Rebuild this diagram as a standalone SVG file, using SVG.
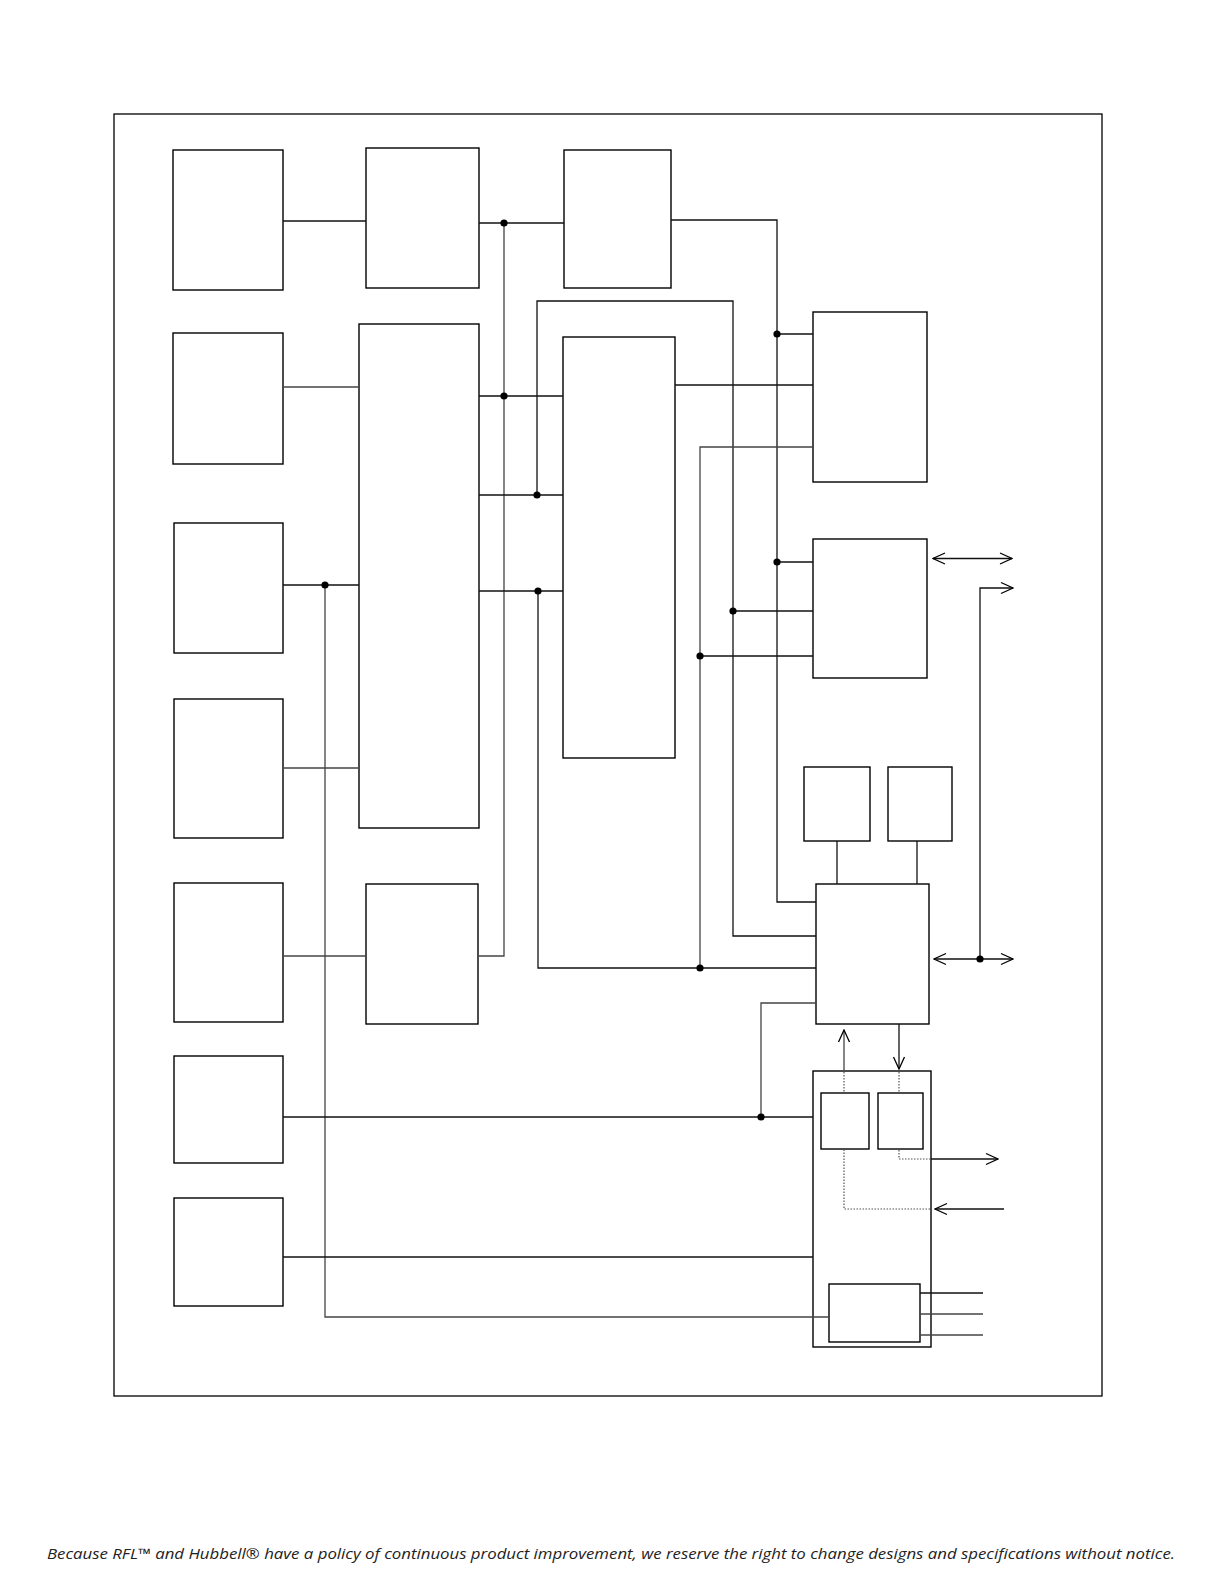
<svg xmlns="http://www.w3.org/2000/svg" width="1224" height="1584" viewBox="0 0 1224 1584">
<style>
.box{fill:#fff;stroke:#000;stroke-width:1.4}
.ln{fill:none;stroke:#111;stroke-width:1.3}
.gl{fill:none;stroke:#444;stroke-width:1.3}
.dt{fill:none;stroke:#555;stroke-width:1.2;stroke-dasharray:1.5 1.5}
.dot{fill:#000}
.foot{font-family:"Open Sans","Liberation Sans",sans-serif;font-style:italic;font-size:14.5px;fill:#222}
</style>
<defs>
<marker id="arr" viewBox="-1 -7 14 14" refX="12" refY="0" markerWidth="14" markerHeight="14" markerUnits="userSpaceOnUse" orient="auto-start-reverse">
<path d="M0,-5.5 L12,0 L0,5.5" fill="none" stroke="#000" stroke-width="1.3"/>
</marker>
</defs>
<rect id="frame" x="114" y="114" width="988" height="1282" fill="none" stroke="#000" stroke-width="1.3"/>
<g id="a1"><rect class="box" x="173" y="150" width="110" height="140"/></g>
<g id="a2"><rect class="box" x="173" y="333" width="110" height="131"/></g>
<g id="a3"><rect class="box" x="174" y="523" width="109" height="130"/></g>
<g id="a4"><rect class="box" x="174" y="699" width="109" height="139"/></g>
<g id="a5"><rect class="box" x="174" y="883" width="109" height="139"/></g>
<g id="a6"><rect class="box" x="174" y="1056" width="109" height="107"/></g>
<g id="a7"><rect class="box" x="174" y="1198" width="109" height="108"/></g>
<g id="b1"><rect class="box" x="366" y="148" width="113" height="140"/></g>
<g id="b2"><rect class="box" x="359" y="324" width="120" height="504"/></g>
<g id="b3"><rect class="box" x="366" y="884" width="112" height="140"/></g>
<g id="c1"><rect class="box" x="564" y="150" width="107" height="138"/></g>
<g id="c2"><rect class="box" x="563" y="337" width="112" height="421"/></g>
<g id="d1"><rect class="box" x="813" y="312" width="114" height="170"/></g>
<g id="d2"><rect class="box" x="813" y="539" width="114" height="139"/></g>
<g id="e1"><rect class="box" x="804" y="767" width="66" height="74"/></g>
<g id="e2"><rect class="box" x="888" y="767" width="64" height="74"/></g>
<g id="f"><rect class="box" x="816" y="884" width="113" height="140"/></g>
<g id="g"><rect class="box" x="813" y="1071" width="118" height="276"/></g>
<g id="g1"><rect class="box" x="821" y="1093" width="48" height="56"/></g>
<g id="g2"><rect class="box" x="878" y="1093" width="45" height="56"/></g>
<g id="g3"><rect class="box" x="829" y="1284" width="91" height="58"/></g>
<g id="connectors">
<path class="ln" d="M283,221 H366"/>
<path class="ln" d="M479,223 H564"/>
<path class="gl" d="M504,223 V956 H478"/>
<path class="ln" d="M671,220 H777 V902 H816"/>
<path class="ln" d="M777,334 H813"/>
<path class="ln" d="M777,562 H813"/>
<path class="gl" d="M283,387 H359"/>
<path class="ln" d="M479,396 H563"/>
<path class="ln" d="M537,495 V301 H733 V936 H816"/>
<path class="ln" d="M479,495 H563"/>
<path class="ln" d="M733,611 H813"/>
<path class="ln" d="M675,385 H813"/>
<path class="gl" d="M813,447 H700 V968"/>
<path class="ln" d="M700,656 H813"/>
<path class="ln" d="M479,591 H563"/>
<path class="ln" d="M538,591 V968 H816"/>
<path class="ln" d="M283,585 H359"/>
<path class="gl" d="M325,585 V1317 H829"/>
<path class="gl" d="M283,768 H359"/>
<path class="gl" d="M283,956 H366"/>
<path class="ln" d="M283,1117 H813"/>
<path class="gl" d="M816,1003 H761 V1117"/>
<path class="ln" d="M283,1257 H813"/>
<path class="ln" d="M837,841 V884"/>
<path class="ln" d="M917,841 V884"/>
<path class="ln" d="M933,558.5 H1012" marker-start="url(#arr)" marker-end="url(#arr)"/>
<path class="ln" d="M980,959 V588 H1013" marker-end="url(#arr)"/>
<path class="ln" d="M934,959 H1013" marker-start="url(#arr)" marker-end="url(#arr)"/>
<path class="gl" d="M844,1071 V1030" marker-end="url(#arr)"/>
<path class="dt" d="M844,1072 V1093"/>
<path class="ln" d="M899,1024 V1069" marker-end="url(#arr)"/>
<path class="dt" d="M899,1072 V1093"/>
<path class="dt" d="M899,1150 V1159 H931"/>
<path class="ln" d="M931,1159 H998" marker-end="url(#arr)"/>
<path class="ln" d="M1004,1209 H935" marker-end="url(#arr)"/>
<path class="dt" d="M930,1209 H844 V1150"/>
<path class="ln" d="M920,1293 H983"/>
<path class="gl" d="M920,1314 H983"/>
<path class="gl" d="M920,1335 H983"/>
<circle class="dot" cx="504" cy="223" r="3.6"/>
<circle class="dot" cx="504" cy="396" r="3.6"/>
<circle class="dot" cx="537" cy="495" r="3.6"/>
<circle class="dot" cx="538" cy="591" r="3.6"/>
<circle class="dot" cx="325" cy="585" r="3.6"/>
<circle class="dot" cx="777" cy="334" r="3.6"/>
<circle class="dot" cx="777" cy="562" r="3.6"/>
<circle class="dot" cx="733" cy="611" r="3.6"/>
<circle class="dot" cx="700" cy="656" r="3.6"/>
<circle class="dot" cx="700" cy="968" r="3.6"/>
<circle class="dot" cx="980" cy="959" r="3.6"/>
<circle class="dot" cx="761" cy="1117" r="3.6"/>
</g>
<text class="foot" x="47" y="1559" textLength="1128" lengthAdjust="spacingAndGlyphs">Because RFL™ and Hubbell® have a policy of continuous product improvement, we reserve the right to change designs and specifications without notice.</text>
</svg>
